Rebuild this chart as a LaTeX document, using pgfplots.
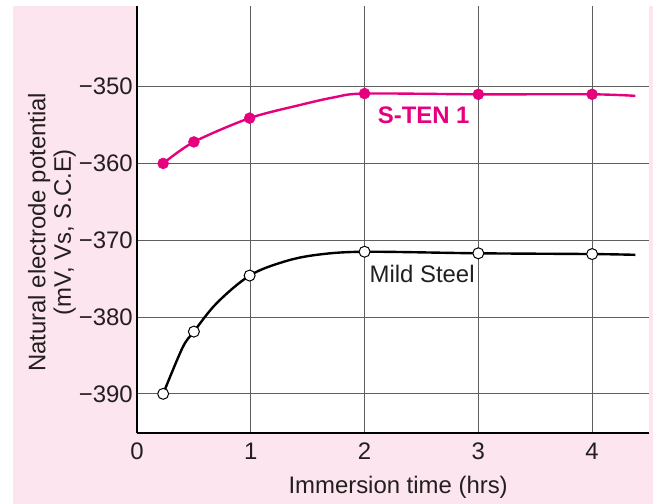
\documentclass[border=0pt]{standalone}
\usepackage{pgfplots}
\pgfplotsset{compat=1.18}
\usepackage{fontspec}
\setmainfont{Liberation Sans}
\definecolor{bgpink}{HTML}{FCE5EE}
\definecolor{mag}{HTML}{E6007E}
\definecolor{gridgray}{HTML}{5F5F5F}
\definecolor{txt}{HTML}{231F20}
\begin{document}
\begin{tikzpicture}[font=\fontsize{24}{27}\selectfont]
\useasboundingbox (0,0) rectangle (653bp,504bp);
\fill[white] (0,0) rectangle (653bp,504bp);
\fill[bgpink] (13bp,0) rectangle (653bp,498bp);
\begin{axis}[
  at={(137bp,71bp)}, anchor=south west,
  scale only axis, width=512bp, height=427bp,
  xmin=0, xmax=4.5, ymin=-395.1, ymax=-339.5,
  axis background/.style={fill=white},
  axis x line=bottom, axis y line=left,
  axis line style={-, black, line width=1.3bp},
  xtick={0,1,2,3,4}, xticklabels={0,1,2,3,4},
  ytick={-390,-380,-370,-360,-350},
  yticklabels={−390,−380,−370,−360,−350},
  major tick length=0pt,
  grid=major,
  major grid style={gridgray, line width=1bp},
  tick label style={text=txt, font=\fontsize{24}{27}\selectfont},
  yticklabel style={inner sep=0pt, anchor=east, xshift=-4bp},
  xticklabel style={inner sep=0pt, anchor=north, yshift=-9.5bp},
  xlabel={Immersion time (hrs)},
  xlabel style={inner sep=0pt, anchor=base, at={(axis description cs:0.51,0)}, yshift=-60bp, text=txt},
  ylabel={Natural electrode potential\\(mV, Vs, S.C.E)},
  ylabel style={align=center, inner sep=0pt, anchor=center, at={(axis description cs:-0.166,0.47)}, text=txt, font=\fontsize{24}{25.5}\selectfont},
  clip=false,
]
% S-TEN 1 curve (markers plus points)
\addplot[mag, line width=2.4bp, smooth, tension=0.5, no marks] coordinates {
 (0.23,-360.0) (0.50,-357.2) (0.99,-354.1) (1.43,-352.4) (1.73,-351.4) (2.0,-350.9) (3.0,-351.0) (4.0,-351.0) (4.38,-351.2)};
\addplot[only marks, mark=*, mark size=5.5bp, mark options={fill=mag, draw=mag}] coordinates {
 (0.23,-360.0) (0.50,-357.2) (0.99,-354.1) (2.0,-350.9) (3.0,-351.0) (4.0,-351.0)};
% Mild Steel curve
\addplot[black, line width=2.4bp, smooth, tension=0.55, no marks] coordinates {
 (0.23,-390.0) (0.40,-384.0) (0.50,-381.9) (0.70,-378.2) (0.99,-374.6) (1.29,-372.8) (1.58,-371.9) (2.0,-371.5) (3.0,-371.7) (4.0,-371.8) (4.38,-371.9)};
\addplot[only marks, mark=*, mark size=5.5bp, mark options={fill=white, draw=black, line width=1bp}] coordinates {
 (0.23,-390.0) (0.50,-381.9) (0.99,-374.6) (2.0,-371.5) (3.0,-371.7) (4.0,-371.8)};
\node[mag, font=\fontsize{24}{27}\selectfont\bfseries, inner sep=0pt] at (axis cs:2.52,-353.75) {S-TEN 1};
\node[txt, inner sep=0pt] at (axis cs:2.506,-374.4) {Mild Steel};
\end{axis}
\end{tikzpicture}
\end{document}
